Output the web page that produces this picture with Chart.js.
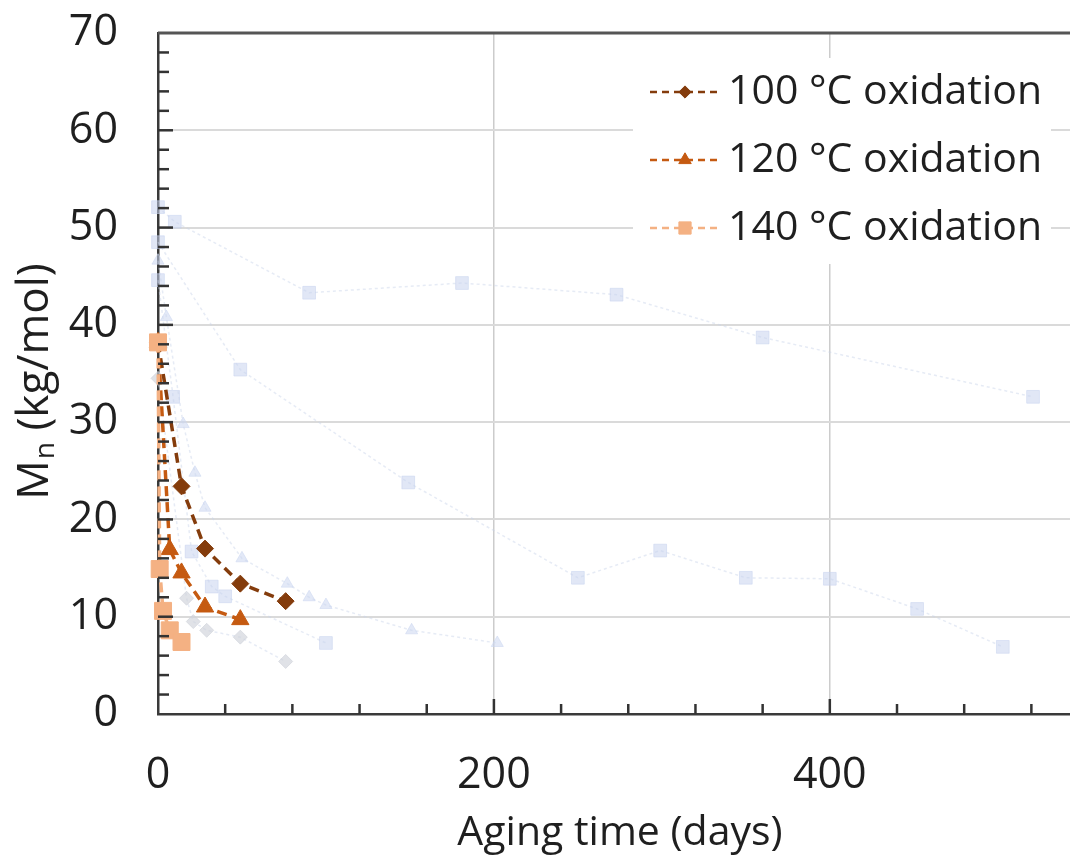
<!DOCTYPE html>
<html><head><meta charset="utf-8">
<script src="https://cdn.jsdelivr.net/npm/chart.js@4.4.1/dist/chart.umd.min.js"></script>
<style>html,body{margin:0;padding:0;background:#fff;overflow:hidden}#wrap{width:1070px;height:857px;position:relative}</style>
</head><body><div id="wrap"><canvas id="c" width="1070" height="857"></canvas></div>
<script>
// ---- Highlighted series (this work) ----
const labels = ['100 °C oxidation', '120 °C oxidation', '140 °C oxidation'];
const days100 = [0, 14, 28, 49, 76];
const mn100   = [38.2, 23.4, 17.0, 13.4, 11.6];
const days120 = [0, 7, 14, 28, 49];
const mn120   = [38.2, 16.9, 14.5, 11.0, 9.7];
const days140 = [0, 1, 3, 7, 14];
const mn140   = [38.2, 14.9, 10.6, 8.6, 7.4];

// ---- Faded background series ----
const fadeADays = [0, 10, 90, 181, 273, 360, 521];
const fadeAMn   = [52.1, 50.6, 43.3, 44.3, 43.1, 38.7, 32.6];
const fadeBDays = [0, 49, 149, 250, 299, 350, 400, 452, 503];
const fadeBMn   = [48.5, 35.4, 23.8, 14.0, 16.8, 14.0, 13.9, 10.8, 6.9];
const fadeCDays = [0, 5, 15, 22, 28, 50, 77, 90, 100, 151, 202];
const fadeCMn   = [46.6, 40.8, 29.8, 24.8, 21.2, 16.0, 13.4, 12.0, 11.2, 8.6, 7.3];
const fadeDDays = [0, 9, 20, 32, 40, 100];
const fadeDMn   = [44.6, 32.6, 16.7, 13.1, 12.1, 7.3];
const fadeEDays = [0, 17, 21, 29, 49, 76];
const fadeEMn   = [34.5, 11.9, 9.5, 8.6, 7.9, 5.4];

// ---- Axis ticks ----
const xTickLabels = [0, 200, 400];
const yTickLabels = [0, 10, 20, 30, 40, 50, 60, 70];

const pts = (d, m) => d.map((v, i) => ({x: v, y: m[i]}));
const FONT = 'Open Sans';
const TXT = '#1f1f1f';

function mainSet(label, d, m, color, style, r, order) {
  return {label, data: pts(d, m), showLine: true, borderColor: color, backgroundColor: color,
    borderWidth: 3.5, borderDash: [10, 6], pointStyle: style, pointRadius: r, pointHoverRadius: r,
    pointBackgroundColor: color, pointBorderColor: color, pointBorderWidth: 1, clip: false, order};
}
function fadeSet(label, d, m, color, style, r) {
  return {label, data: pts(d, m), showLine: true, borderColor: 'rgba(200,210,232,0.45)',
    borderWidth: 1.5, borderDash: [3, 3], pointStyle: style, pointRadius: r, pointHoverRadius: r,
    pointBackgroundColor: color, pointBorderColor: color, pointBorderWidth: 1, clip: false, order: 5};
}

const datasets = [
  mainSet(labels[2], days140, mn140, '#F4B183', 'rect', 12, 0),
  mainSet(labels[1], days120, mn120, '#C55A11', 'triangle', 10, 1),
  mainSet(labels[0], days100, mn100, '#843C0C', 'rectRot', 8.5, 2),
  fadeSet('fadeA', fadeADays, fadeAMn, 'rgba(200,212,238,0.55)', 'rect', 9),
  fadeSet('fadeB', fadeBDays, fadeBMn, 'rgba(200,212,238,0.55)', 'rect', 9),
  fadeSet('fadeC', fadeCDays, fadeCMn, 'rgba(204,215,240,0.55)', 'triangle', 7),
  fadeSet('fadeD', fadeDDays, fadeDMn, 'rgba(200,212,238,0.55)', 'rect', 9),
  fadeSet('fadeE', fadeEDays, fadeEMn, 'rgba(208,211,218,0.65)', 'rectRot', 7)
];

const decorPlugin = {
  id: 'decor',
  afterDraw(chart) {
    const {ctx, chartArea: a, scales: {x, y}} = chart;
    ctx.save();
    // top border
    ctx.strokeStyle = '#555'; ctx.lineWidth = 3;
    ctx.beginPath(); ctx.moveTo(a.left, a.top); ctx.lineTo(a.right, a.top); ctx.stroke();
    // inward tick marks
    ctx.strokeStyle = '#333'; ctx.lineWidth = 2.5;
    for (let v = 2; v <= 68; v += 2) {
      const py = y.getPixelForValue(v);
      const len = v % 10 === 0 ? 15 : 11;
      ctx.beginPath(); ctx.moveTo(a.left, py); ctx.lineTo(a.left + len, py); ctx.stroke();
    }
    for (let v = 40; v <= x.max; v += 40) {
      const px = x.getPixelForValue(v);
      const len = v % 200 === 0 ? 15 : 10;
      ctx.beginPath(); ctx.moveTo(px, a.bottom); ctx.lineTo(px, a.bottom - len); ctx.stroke();
    }
    // axis titles
    ctx.fillStyle = TXT;
    ctx.textBaseline = 'middle';
    ctx.textAlign = 'center';
    ctx.font = `41px "${FONT}"`;
    ctx.fillText('Aging time (days)', 620, 833);
    // y title with subscript
    ctx.save();
    ctx.translate(35, 382);
    ctx.rotate(-Math.PI / 2);
    ctx.textAlign = 'left';
    const big = `44px "${FONT}"`, small = `28px "${FONT}"`;
    ctx.font = big; const wM = ctx.measureText('M').width; const rest = ' (kg/mol)'; const wR = ctx.measureText(rest).width;
    ctx.font = small; const wN = ctx.measureText('n').width;
    let sx = -(wM + wN + wR) / 2;
    ctx.font = big; ctx.fillText('M', sx, 0);
    ctx.font = small; ctx.fillText('n', sx + wM + 1, 11);
    ctx.font = big; ctx.fillText(rest, sx + wM + wN + 1, 0);
    ctx.restore();

    // legend
    ctx.fillStyle = '#fff';
    ctx.fillRect(633, 58, 418, 206);
    const order = [2, 1, 0];
    const rows = [92, 160, 228];
    order.forEach((di, k) => {
      const ds = chart.data.datasets[di];
      const ry = rows[k];
      ctx.save();
      ctx.strokeStyle = ds.borderColor; ctx.lineWidth = 2.5; ctx.setLineDash([7, 5]);
      ctx.beginPath(); ctx.moveTo(650, ry); ctx.lineTo(720, ry); ctx.stroke();
      ctx.setLineDash([]);
      ctx.fillStyle = ds.pointBackgroundColor; ctx.strokeStyle = ds.pointBorderColor; ctx.lineWidth = 1;
      Chart.helpers.drawPoint(ctx, {pointStyle: ds.pointStyle, radius: ds.pointRadius * 0.72, borderWidth: 1, rotation: 0}, 685, ry);
      ctx.fillStyle = TXT; ctx.textAlign = 'left'; ctx.textBaseline = 'middle';
      ctx.font = `41px "${FONT}"`;
      ctx.fillText(ds.label, 728, ry);
      ctx.restore();
    });
    ctx.restore();
  }
};

new Chart(document.getElementById('c'), {
  type: 'scatter',
  data: {datasets},
  options: {
    responsive: false, animation: false, devicePixelRatio: 1,
    layout: {autoPadding: false, padding: {top: 33, right: 0, bottom: 0, left: 0}},
    plugins: {legend: {display: false}, tooltip: {enabled: false}},
    elements: {line: {tension: 0}},
    scales: {
      x: {type: 'linear', min: 0, max: 543, position: 'bottom',
        ticks: {stepSize: 200, includeBounds: false, autoSkip: false, maxRotation: 0, padding: 36, color: TXT,
          font: {family: FONT, size: 43},
          callback: v => xTickLabels.includes(v) ? String(v) : ''},
        grid: {drawTicks: false, lineWidth: 1.5,
          color: c => (c.tick && c.tick.value > 0) ? '#cccccc' : 'rgba(0,0,0,0)'},
        border: {display: true, color: '#3a3a3a', width: 2.5},
        afterFit: s => { s.height = 143; s.paddingLeft = 0; s.paddingRight = 0; s.paddingTop = 0; s.paddingBottom = 0; }
      },
      y: {type: 'linear', min: 0, max: 70,
        ticks: {stepSize: 10, autoSkip: false, padding: 40, color: TXT, font: {family: FONT, size: 43},
          callback: v => yTickLabels.includes(v) ? String(v) : ''},
        grid: {drawTicks: false, lineWidth: 2,
          color: c => (c.tick && c.tick.value > 0 && c.tick.value < 70) ? '#dadada' : 'rgba(0,0,0,0)'},
        border: {display: true, color: '#3a3a3a', width: 2.5},
        afterFit: s => { s.width = 158; s.paddingLeft = 0; s.paddingRight = 0; s.paddingTop = 0; s.paddingBottom = 0; }
      }
    }
  },
  plugins: [decorPlugin]
});
</script></body></html>
